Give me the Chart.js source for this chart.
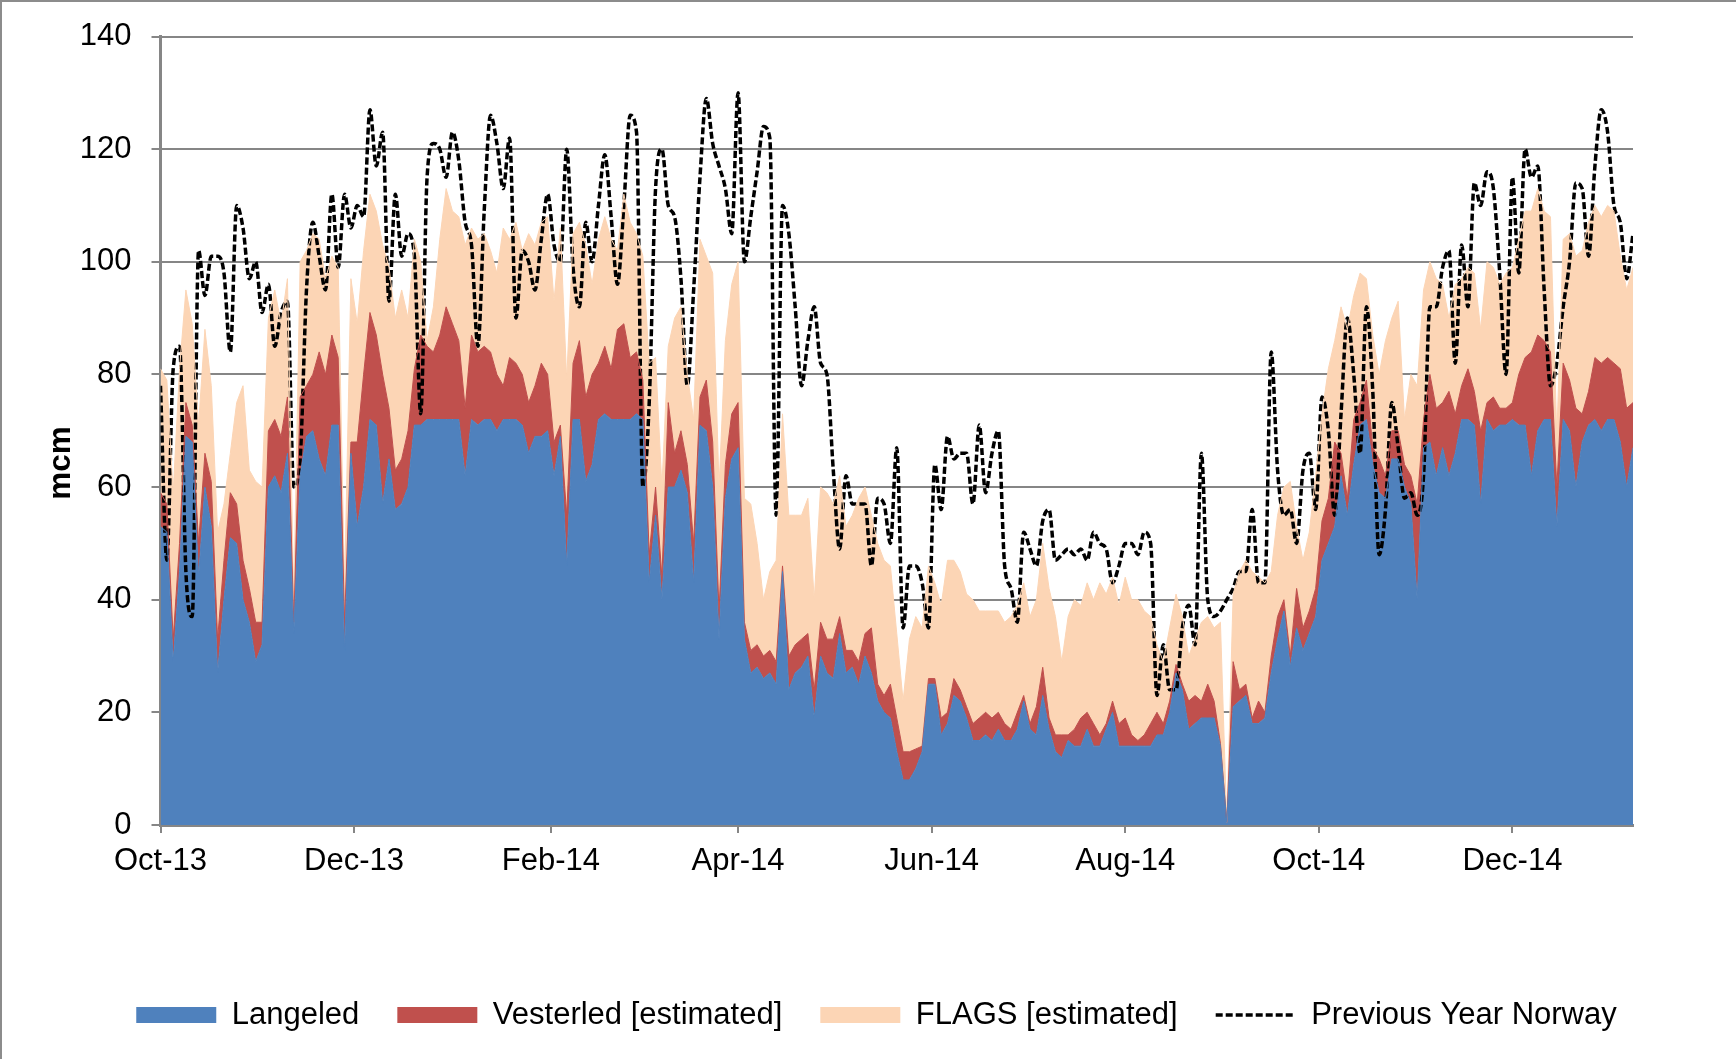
<!DOCTYPE html>
<html><head><meta charset="utf-8">
<script src="https://cdn.jsdelivr.net/npm/chart.js@4/dist/chart.umd.min.js"></script>
<style>
html,body{margin:0;padding:0;background:#fff;}
#wrap{position:relative;width:1736px;height:1059px;overflow:hidden;background:#fff;}
#c{position:absolute;left:0;top:0;}
#frame{position:absolute;left:0;top:0;width:1736px;height:1059px;box-sizing:border-box;border-left:2px solid #8c8c8c;border-top:2px solid #8c8c8c;pointer-events:none;}
</style></head><body>
<div id="wrap"><canvas id="c" width="1736" height="1059"></canvas><div id="frame"></div></div>
<script>
// Day offsets from 1 Oct 2013 (every second day)
const days = [0,2,4,6,8,10,12,14,16,18,20,22,24,26,28,30,32,34,36,38,40,42,44,46,48,50,52,54,56,58,
60,62,64,66,68,70,72,74,76,78,80,82,84,86,88,90,92,94,96,98,100,102,104,106,108,110,112,114,116,118,
120,122,124,126,128,130,132,134,136,138,140,142,144,146,148,150,152,154,156,158,160,162,164,166,168,170,172,174,176,178,
180,182,184,186,188,190,192,194,196,198,200,202,204,206,208,210,212,214,216,218,220,222,224,226,228,230,232,234,236,238,
240,242,244,246,248,250,252,254,256,258,260,262,264,266,268,270,272,274,276,278,280,282,284,286,288,290,292,294,296,298,
300,302,304,306,308,310,312,314,316,318,320,322,324,326,328,330,332,334,336,338,340,342,344,346,348,350,352,354,356,358,
360,362,364,366,368,370,372,374,376,378,380,382,384,386,388,390,392,394,396,398,400,402,404,406,408,410,412,414,416,418,
420,422,424,426,428,430,432,434,436,438,440,442,444,446,448,450,452,454,456,458,460,462,464];

const langeled = [53,52,29,45,69,68,44,60,53,27,
40,51,50,40,36,29,32,60,62,59,
66,34,62,69,70,65,62,71,71,31,
66,53,60,72,71,57,65,56,57,60,
71,71,72,72,72,72,72,72,62,72,
71,72,72,70,72,72,72,71,66,69,
69,70,62,69,46,72,72,61,64,72,
73,72,72,72,72,73,72,43,55,40,
60,60,63,59,43,71,70,60,33,58,
65,67,33,27,28,26,27,25,45,24,
27,28,30,19,30,27,26,34,27,28,
25,30,27,22,20,19,13,8,8,10,
13,25,25,16,18,23,22,19,15,15,
16,15,17,15,15,17,22,17,16,23,
17,13,12,15,14,14,17,14,14,17,
20,14,14,14,14,14,14,16,16,20,
27,24,17,18,19,19,19,14,0.5,21,
22,23,18,18,19,27,33,38,28,35,
31,34,37,47,50,53,62,55,64,71,
72,64,59,58,65,65,60,57,40,67,
68,62,67,62,66,72,72,71,57,72,
70,71,71,72,71,71,62,70,72,72,
53,72,70,60,68,71,72,70,72,72,
68,60,67];

const vesterled = [6,5,4,5,6,3,6,6,8,6,
7,8,7,7,6,7,4,10,10,10,
10,2,14,9,10,19,18,16,12,5,
2,15,20,19,16,23,9,7,8,10,
10,16,13,12,15,20,17,14,12,15,
13,13,12,10,6,11,10,9,9,9,
13,10,6,2,9,10,14,15,16,10,
12,9,16,17,11,11,7,5,5,4,
15,6,7,5,7,5,9,8,5,6,
8,8,3,4,4,4,4,4,1,6,
5,5,4,5,6,6,7,3,4,3,
4,4,8,3,3,6,6,5,5,3.5,
1,1,1,3,2,3,2,2,3,4,
4,4,3,3,2,3,1,1,5,5,
2,3,4,1,3,5,3,4,2,1,
2,4,5,2,1,2,4,4,2,2,
1.5,1,5,5,3,6,3,0.5,0,8,
2,2,1,4,1,3,4,2,2,7,
4,4,5,7,8,15,4,3,8,4,
7,3,6,4,5,5,4,5,17,5,
12,12,8,15,7,6,9,6,13,3,
6,3,3,3,9,12,22,17,14,12,
7,10,9,14,5,6,11,12,11,10,
13,14,8];

const flags = [22,22,26,31,20,18,21,22,17,19,
10,7,18,31,21,25,24,20,23,20,
21,4,24,24,25,20,17,14,16,6,
29,21,22,21,22,23,25,27,30,20,
23,13,1,8,17,21,20,22,29,19,
20,20,18,18,28,21,25,22,30,25,
25,28,25,35,24,23,21,27,16,22,
23,23,14,23,24,21,22,34,23,16,
10,24,22,16,22,28,22,30,22,22,
23,25,22,26,18,10,14,18,27,25,
23,22,24,16,24,26,24,25,22,24,
29,26,20,25,24,21,15,9,20,23.5,
21,20,17,20,27,21,21,20,22,19,
18,19,18,18,20,19,20,19,19,22,
23,21,13,21,23,20,23,22,27,23,
22,21,25,24,25,22,19,12,11,13,
12.5,12,8,10,14,12,13,21.5,0,12,
21,22,26,22,23,15,18,20,31,11,
12,14,20,19,23,18,26,30,22,23,
18,20,15,24,20,23,8,18,21,23,
20,23,21,13,23,19,18,21,18,25,
23,22,24,24,24,26,25,26,23,24,
9,22,26,27,29,30,27,26,27,27,
20,21,24];

const prevYear = [78,47,81,85,45,37,102,94,101,101,
98,84,110,106,97,100,91,96,85,91,
93,60,65,95,107,101,95,112,99,112,
106,110,108,127,117,123,93,112,101,105,
101,73,115,121,120,115,123,118,107,103,
85,109,126,121,113,122,90,102,100,95,
104,112,103,100,120,99,92,107,100,110,
119,108,96,110,126,123,60,75,113,120,
110,108,97,78,95,115,129,121,117,113,
105,130,100,108,116,124,122,55,110,105,
92,78,86,92,82,80,63,49,62,57,
57,57,46,58,57,50,67,35,46,46,
43,35,64,56,69,65,66,66,57,71,
59,66,70,46,42,36,52,49,46,54,
56,47,48,49,48,49,47,52,50,49,
43,46,50,50,48,52,50,23,32,24,
24,35,39,32,66,40,37,38,40,42,
45,45,56,43,43,84,63,55,56,50,
63,66,56,76,70,55,73,90,80,66,
92,77,48,56,75,67,58,59,55,62,
92,92,99,102,82,103,92,114,110,116,
113,98,80,115,98,120,115,117,95,78,
82,92,100,114,113,101,117,127,123,110,
107,97,105];

const tickDays = [0,61,123,182,243,304,365,426];
const tickLabels = ['Oct-13','Dec-13','Feb-14','Apr-14','Jun-14','Aug-14','Oct-14','Dec-14'];
const seriesNames = ['Langeled','Vesterled [estimated]','FLAGS [estimated]','Previous Year Norway'];

const FONT = '"Liberation Sans", Arial, sans-serif';
const GRID = '#868686';

function pts(arr){ return days.map((d,i)=>({x:d, y:arr[i]})); }

const yTitle = {
  id:'yTitle',
  afterDraw(chart){
    const ctx = chart.ctx;
    ctx.save();
    ctx.translate(61, 463);
    ctx.rotate(-Math.PI/2);
    ctx.font = 'bold 31.5px ' + FONT;
    ctx.fillStyle = '#000';
    ctx.textAlign = 'center';
    ctx.textBaseline = 'middle';
    ctx.fillText('mcm', 0, 0);
    ctx.restore();
  }
};

const areaDs = (label, arr, color, fill) => ({
  label, data: pts(arr), stack:'flow', fill,
  backgroundColor: color, borderColor: color, borderWidth: 1,
  pointRadius: 0, tension: 0
});

new Chart(document.getElementById('c'), {
  type: 'line',
  data: {
    datasets: [
      areaDs(seriesNames[0], langeled, '#4F81BD', 'origin'),
      areaDs(seriesNames[1], vesterled, '#C0504D', '-1'),
      areaDs(seriesNames[2], flags, '#FCD5B5', '-1'),
      {
        label: seriesNames[3], data: pts(prevYear), stack:'prev', fill:false,
        borderColor:'#000', backgroundColor:'#000', borderWidth:3.5, borderDash:[7,3],
        pointRadius:0, cubicInterpolationMode:'monotone'
      }
    ]
  },
  options: {
    responsive:false, animation:false, devicePixelRatio:1,
    layout:{ padding:{ left:17, right:0, top:36.5, bottom:18.5 } },
    plugins:{
      tooltip:{ enabled:false },
      filler:{ drawTime:'beforeDatasetsDraw' },
      legend:{
        position:'bottom', align:'center',
        labels:{
          usePointStyle:true, pointStyleWidth:80, boxHeight:16, padding:38,
          color:'#000', font:{ family:FONT, size:31 },
          generateLabels:(chart)=>chart.data.datasets.map((ds,i)=>({
            text: ds.label, datasetIndex:i, hidden:false, fontColor:'#000',
            fillStyle: i===3 ? 'rgba(0,0,0,0)' : ds.backgroundColor,
            strokeStyle: i===3 ? '#000' : ds.backgroundColor,
            lineWidth: i===3 ? 3.5 : 0,
            lineDash: i===3 ? [7,3] : [],
            pointStyle: i===3 ? 'line' : 'rect'
          }))
        }
      }
    },
    scales:{
      x:{
        type:'linear', min:0, max:464, z:1,
        afterBuildTicks:(axis)=>{ axis.ticks = tickDays.map(v=>({value:v})); },
        afterFit:(s)=>{ s.height = 136.5; s.paddingLeft = 0; s.paddingRight = 0; },
        ticks:{ autoSkip:false, maxRotation:0, minRotation:0, padding:10, color:'#000',
          font:{ family:FONT, size:31 },
          callback:(v)=>{ const i = tickDays.indexOf(v); return i>=0 ? tickLabels[i] : ''; } },
        grid:{ drawOnChartArea:false, drawTicks:true, tickLength:8, color:GRID, lineWidth:2 },
        border:{ color:GRID, width:3 }
      },
      y:{
        stacked:true, min:0, max:140,
        afterFit:(s)=>{ s.width = 143.5; s.paddingTop = 0; s.paddingBottom = 0; },
        ticks:{ stepSize:20, padding:20, color:'#000', font:{ family:FONT, size:31 } },
        grid:{ color:GRID, lineWidth:2, tickLength:9, drawTicks:true },
        border:{ color:GRID, width:3 }
      },
      ySpace:{
        type:'linear', position:'right', display:true, min:0, max:1,
        afterFit:(s)=>{ s.width = 103; s.paddingTop = 0; s.paddingBottom = 0; },
        ticks:{ display:false },
        grid:{ display:false, drawTicks:false },
        border:{ display:false }
      }
    }
  },
  plugins:[yTitle]
});
</script>
</body></html>
